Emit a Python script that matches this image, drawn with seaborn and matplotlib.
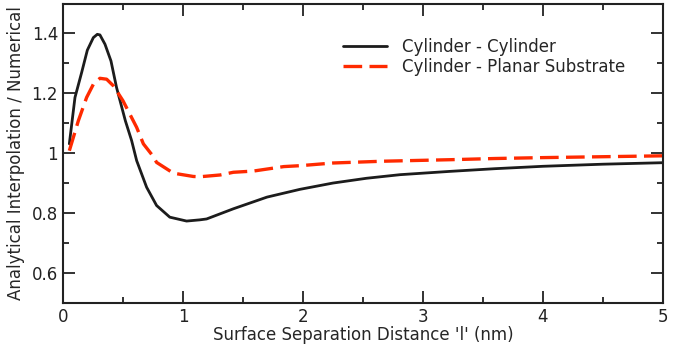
import numpy as np
import pandas as pd
import matplotlib
matplotlib.use("Agg")
import matplotlib.pyplot as plt
import seaborn as sns
from matplotlib.ticker import MultipleLocator, FuncFormatter

# Cylinder - Cylinder (black solid)
cc_x = [0.053, 0.10, 0.156, 0.203, 0.253, 0.286, 0.308, 0.35, 0.40, 0.446, 0.52, 0.572,
        0.614, 0.697, 0.78, 0.89, 1.03, 1.14, 1.197, 1.42, 1.70, 1.975, 2.25, 2.53,
        2.81, 3.225, 3.6, 4.0, 4.5, 5.0]
cc_y = [1.031, 1.186, 1.27, 1.344, 1.386, 1.397, 1.395, 1.364, 1.308, 1.22, 1.108, 1.042,
        0.975, 0.886, 0.825, 0.786, 0.773, 0.777, 0.780, 0.814, 0.853, 0.879, 0.900, 0.916,
        0.928, 0.939, 0.948, 0.956, 0.963, 0.968]

# Cylinder - Planar Substrate (red dashed)
cp_x = [0.053, 0.128, 0.197, 0.253, 0.308, 0.364, 0.42, 0.50, 0.614, 0.67, 0.75, 0.78,
        0.92, 1.086, 1.14, 1.31, 1.42, 1.586, 1.84, 1.975, 2.25, 2.67, 3.225, 3.6, 4.0,
        4.5, 5.0]
cp_y = [1.008, 1.108, 1.186, 1.23, 1.25, 1.247, 1.225, 1.175, 1.086, 1.031, 0.990, 0.969,
        0.933, 0.922, 0.921, 0.927, 0.936, 0.940, 0.955, 0.958, 0.967, 0.973, 0.978, 0.982,
        0.985, 0.988, 0.991]

series_names = ["Cylinder - Cylinder", "Cylinder - Planar Substrate"]
x_label = "Surface Separation Distance 'l' (nm)"
y_label = "Analytical Interpolation / Numerical"

sns.set_style("ticks")
plt.rcParams['font.family'] = ['DejaVu Sans']

FS = 12

fig = plt.figure(figsize=(6.89, 3.5), dpi=100)
ax = fig.add_axes([0.0914, 0.135, 0.8708, 0.855])

sns.lineplot(x=cc_x, y=cc_y, ax=ax, color="#1c1c1c", linewidth=2.0, label=series_names[0],
             sort=False, estimator=None)
sns.lineplot(x=cp_x, y=cp_y, ax=ax, color="#ff2a00", linewidth=2.4, label=series_names[1],
             sort=False, estimator=None)
ax.lines[1].set_dashes([5.6, 2.2])

ax.set_xlim(0, 5)
ax.set_ylim(0.5, 1.5)
ax.xaxis.set_major_locator(MultipleLocator(1))
ax.xaxis.set_minor_locator(MultipleLocator(0.5))
ax.yaxis.set_major_locator(MultipleLocator(0.2))
ax.yaxis.set_minor_locator(MultipleLocator(0.1))
ax.yaxis.set_major_formatter(FuncFormatter(lambda v, p: "%g" % round(v, 3)))
ax.xaxis.set_major_formatter(FuncFormatter(lambda v, p: "%g" % round(v, 3)))

ax.tick_params(which="both", direction="in", top=True, right=True, colors="#222222",
               labelsize=FS, width=1.3)
ax.tick_params(which="major", length=8.5, pad=3.5)
ax.tick_params(which="minor", length=4.5)
for s in ax.spines.values():
    s.set_visible(True)
    s.set_linewidth(1.5)
    s.set_color("#222222")

ax.set_xlabel(x_label, fontsize=FS, labelpad=0)
ax.set_ylabel(y_label, fontsize=FS, labelpad=5)

leg = ax.legend(loc="upper right", bbox_to_anchor=(0.962, 0.934), frameon=False,
                fontsize=FS, handlelength=2.65, labelspacing=0.12, handletextpad=0.9)
leg.get_lines()[1].set_dashes([5.6, 2.2])

fig.savefig("out.png", dpi=100)
